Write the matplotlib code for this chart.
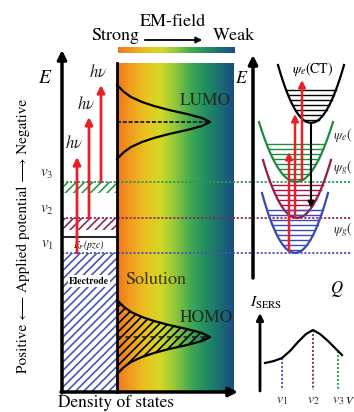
import numpy as np
import matplotlib.pyplot as plt
from matplotlib.colors import LinearSegmentedColormap
from matplotlib.patches import Rectangle

plt.rcParams['font.family'] = ['STIXGeneral', 'DejaVu Serif']
plt.rcParams['mathtext.fontset'] = 'stix'
plt.rcParams['hatch.linewidth'] = 1.2

# --- data (pixel units, y grows downward) ---
v_labels = ['$v_1$', '$v_2$', '$v_3$']
v_levels = [253, 218, 182]            # Fermi level of the electrode at v1, v2, v3
v_colors = ['#4a55b0', '#8a2a55', '#2a9a50']
ef_pzc = 237                          # E_F(pzc)
lumo_center, homo_center = 122, 337
# half profile of the density of states: offset from the centre -> width
dos_offset = [0, 4, 8, 12, 16, 20, 25, 30, 37]
dos_width = [93, 85, 70, 52, 37, 25, 14, 7, 0]

# potential energy curves (bottom level, top level, centre, half width at top)
pes_names = ['$\\psi_e$(CT)', '$\\psi_e$(', '$\\psi_g$(', '$\\psi_g$(']
pes_bottom = [123, 182, 218, 253]
pes_top = [65, 122, 160, 193]
pes_center = [311, 296, 297, 295]
pes_halfw = [33, 37, 34, 33]
pes_colors = ['black', '#1f8a40', '#9a1a45', '#3a4ab5']
pes_nlev = [7, 8, 7, 9]

# SERS intensity vs potential
sers_x = [265, 274, 282, 290, 298, 306, 313, 320, 328, 335, 342]
sers_y = [363, 361, 358, 351, 342, 334, 330, 334, 341, 348, 355]
sers_ticks = [282, 313, 338]

em_colors = ['#ee761e', '#f0a020', '#eac420', '#d2d826', '#90c83c',
             '#44aa50', '#229060', '#1a7070', '#1a4c82']

red = '#e8202a'

fig = plt.figure(figsize=(3.54, 4.12), dpi=100)
ax = fig.add_axes([0, 0, 1, 1])
ax.axis('off')

# ---------- left panel ----------
cmap = LinearSegmentedColormap.from_list('em', em_colors)
grad = np.linspace(0, 1, 256)[None, :]
ax.imshow(grad, cmap=cmap, extent=(117, 234, 392, 63), aspect='auto', zorder=0)
ax.imshow(grad, cmap=cmap, extent=(118, 235, 53, 47), aspect='auto', zorder=0)

ax.text(173, 22, 'EM-field', ha='center', va='center', fontsize=13)
ax.text(115, 36, 'Strong', ha='center', va='center', fontsize=13)
ax.text(234, 36, 'Weak', ha='center', va='center', fontsize=13)
ax.annotate('', xy=(205, 40), xytext=(142, 40),
            arrowprops=dict(arrowstyle='-|>', color='black', lw=1.3, mutation_scale=9))

# electrode column
ax.add_patch(Rectangle((62, v_levels[0]), 55, 392 - v_levels[0], fill=False,
                       hatch='////', edgecolor=v_colors[0], lw=0, zorder=1))
ax.add_patch(Rectangle((62, v_levels[1]), 55, 12, fill=False,
                       hatch='////', edgecolor=v_colors[1], lw=0, zorder=1))
ax.add_patch(Rectangle((62, v_levels[2]), 55, 11, fill=False,
                       hatch='////', edgecolor=v_colors[2], lw=0, zorder=1))
ax.plot([62, 117], [ef_pzc, ef_pzc], color='black', lw=1.2, zorder=2)
ax.text(89, 245, '$E_F$(pzc)', ha='center', va='center', fontsize=7, style='italic', zorder=3)
ax.text(89, 281, 'Electrode', ha='center', va='center', fontsize=7, fontweight='bold', zorder=3,
        bbox=dict(facecolor='white', edgecolor='none', pad=1.0))

# dotted potential lines
for lev, c in zip(v_levels, v_colors):
    ax.plot([62, 352], [lev, lev], color=c, lw=1.3, ls=(0, (1.2, 1.0)), zorder=2)
for lab, lev in zip(v_labels, v_levels):
    ax.text(47, lev - 8, lab, ha='center', va='center', fontsize=11, color='#333333')

# excitation arrows
arrow_x = [77, 89, 101]
arrow_top = [157, 117, 85]
for x, y0, y1 in zip(arrow_x, v_levels, arrow_top):
    ax.annotate('', xy=(x, y1), xytext=(x, y0),
                arrowprops=dict(arrowstyle='-|>', color=red, lw=2, mutation_scale=11,
                                shrinkA=0, shrinkB=0), zorder=4)
    ax.text(x - 3, y1 - 13, '$h\\nu$', ha='center', va='center', fontsize=12, color='#222222')

# LUMO / HOMO density of states
off = np.array([-o for o in dos_offset[::-1]] + dos_offset[1:])
wid = np.array(dos_width[::-1] + dos_width[1:])
ax.plot(117 + wid, lumo_center + off, color='black', lw=1.6, zorder=3)
ax.plot([117, 207], [lumo_center, lumo_center], color='#222222', lw=1.4, ls=(0, (2, 1)), zorder=3)
ax.fill_betweenx(homo_center + off, 117, 117 + wid, facecolor='none', hatch='////',
                 edgecolor='black', lw=0, zorder=3)
ax.plot(117 + wid, homo_center + off, color='black', lw=1.6, zorder=3)
ax.plot([117, 207], [homo_center, homo_center], color='#222222', lw=1.2, ls=(0, (3, 2)), zorder=3)
ax.text(180, 101, 'LUMO', ha='left', va='center', fontsize=12.5, color='#1e2a1e')
ax.text(180, 318, 'HOMO', ha='left', va='center', fontsize=12.5, color='#1e2a1e')
ax.text(156, 280, 'Solution', ha='center', va='center', fontsize=13, color='#3a3418')

# axes of the left panel
ax.plot([117, 117], [63, 392], color='black', lw=2, zorder=5)
ax.annotate('', xy=(62, 50), xytext=(62, 393),
            arrowprops=dict(arrowstyle='-|>', color='black', lw=2.5, mutation_scale=13,
                            shrinkA=0, shrinkB=0), zorder=5)
ax.annotate('', xy=(238, 392), xytext=(61, 392),
            arrowprops=dict(arrowstyle='-|>', color='black', lw=2.5, mutation_scale=13,
                            shrinkA=0, shrinkB=0), zorder=5)
ax.text(45, 78, '$E$', ha='center', va='center', fontsize=14)
ax.text(116, 403, 'Density of states', ha='center', va='center', fontsize=12.5)
ax.text(23, 236, 'Positive \u27f5 Applied potential \u27f6 Negative', rotation=90,
        ha='center', va='center', fontsize=11)

# ---------- right panel: potential energy curves ----------
for name, yb, yt, cx, hw, c, n in zip(pes_names, pes_bottom, pes_top, pes_center,
                                      pes_halfw, pes_colors, pes_nlev):
    yy = np.linspace(yt, yb, 60)
    half = hw * np.sqrt((yb - yy) / (yb - yt))
    ax.plot(np.r_[cx - half, cx + half[::-1]], np.r_[yy, yy[::-1]], color=c, lw=1.6, zorder=3)
    for k in range(n):
        y = yb - 3 - k * 5
        h = hw * np.sqrt((yb - y) / (yb - yt))
        ax.plot([cx - h, cx + h], [y, y], color=c, lw=1.0, zorder=3)
ax.text(313, 69, pes_names[0], ha='center', va='center', fontsize=10)
ax.text(333, 135, pes_names[1], ha='left', va='center', fontsize=10, color='#333333')
ax.text(333, 168, pes_names[2], ha='left', va='center', fontsize=10, color='#333333')
ax.text(333, 230, pes_names[3], ha='left', va='center', fontsize=10, color='#333333')

for x, y0, y1 in zip([289, 295, 302], [251, 216, 180], [152, 114, 80]):
    ax.annotate('', xy=(x, y1), xytext=(x, y0),
                arrowprops=dict(arrowstyle='-|>', color=red, lw=1.8, mutation_scale=10,
                                shrinkA=0, shrinkB=0), zorder=4)
ax.annotate('', xy=(311, 208), xytext=(311, 123),
            arrowprops=dict(arrowstyle='-|>', color='black', lw=1.5, mutation_scale=9,
                            shrinkA=0, shrinkB=0), zorder=4)

ax.annotate('', xy=(355, 277), xytext=(252, 277),
            arrowprops=dict(arrowstyle='-|>', color='black', lw=2.5, mutation_scale=13,
                            shrinkA=0, shrinkB=0), zorder=5)
ax.annotate('', xy=(253, 55), xytext=(253, 278),
            arrowprops=dict(arrowstyle='-|>', color='black', lw=2.5, mutation_scale=13,
                            shrinkA=0, shrinkB=0), zorder=5)
ax.text(242, 79, '$E$', ha='center', va='center', fontsize=13)
ax.text(337, 289, '$Q$', ha='center', va='center', fontsize=12)

# ---------- right panel: SERS intensity ----------
ax.annotate('', xy=(260, 313), xytext=(260, 391),
            arrowprops=dict(arrowstyle='-|>', color='black', lw=2, mutation_scale=10,
                            shrinkA=0, shrinkB=0), zorder=5)
ax.annotate('', xy=(356, 390), xytext=(259, 390),
            arrowprops=dict(arrowstyle='-|>', color='black', lw=2, mutation_scale=10,
                            shrinkA=0, shrinkB=0), zorder=5)
ax.plot(sers_x, sers_y, color='black', lw=1.6, zorder=3)
for x, c in zip(sers_ticks, v_colors):
    ax.plot([x, x], [np.interp(x, sers_x, sers_y), 390], color=c, lw=1.3,
            ls=(0, (1.2, 1.0)), zorder=2)
for x, lab in zip(sers_ticks, v_labels):
    ax.text(x, 400, lab, ha='center', va='center', fontsize=10, color='#333333')
ax.text(345, 400, '$V$', ha='left', va='center', fontsize=8)
ax.text(250, 303, '$I_{\\rm SERS}$', ha='left', va='center', fontsize=11)

ax.set_xlim(0, 354)
ax.set_ylim(412, 0)
fig.savefig('out.png', dpi=100)
